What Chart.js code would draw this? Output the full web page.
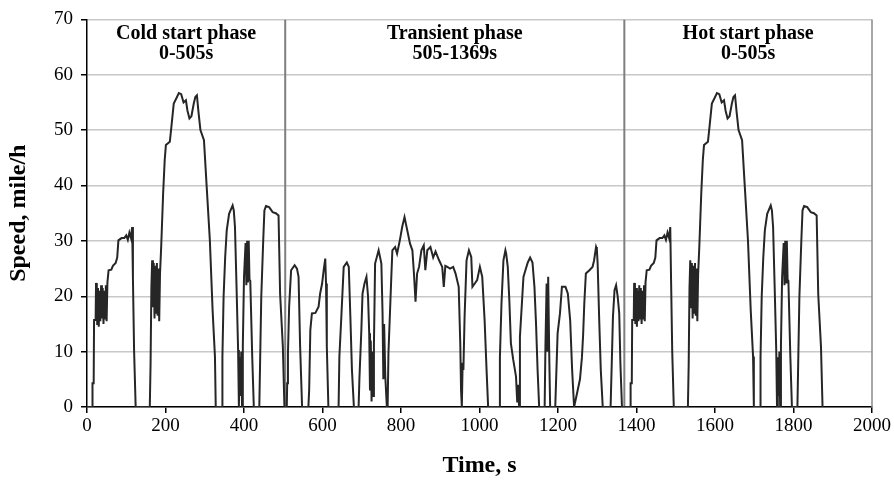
<!DOCTYPE html>
<html><head><meta charset="utf-8">
<script src="https://cdn.jsdelivr.net/npm/chart.js@4.4.0/dist/chart.umd.min.js"></script>
<style>html,body{margin:0;padding:0;background:#fff;}#wrap{width:894px;height:480px;}</style>
</head><body><div id="wrap"><canvas id="c" width="894" height="480"></canvas></div>
<script>
// ---- Data (time in s, speed in mile/h) ----
const coldTime = [0,13,14,17,18,22,23,25,26,28,30,32,34,36,38,40,42,44,46,48,50,52,55,62,66,73,77,80,88,95,100,104,108,112,115,117,120,124,160,162,164,166,168,170,172,174,176,178,180,182,184,186,189,194,198,201,211,215,221,228,234,240,246,252,256,261,266,272,276,280,284,289,298,305,313,320,326,328,344,345,348,352,356,362,371,374,377,381,385,387,389,391,393,395,397,400,404,406,408,410,412,414,416,421,425,439,441,444,449,452,456,464,473,481,488,492,499,503,505];
const coldSpeed = [0,0,4.3,4.3,15.7,15.7,22.4,21,15,21.5,14.5,21,15.5,22,16,21.5,15,21,16,22,15.5,22.5,24.7,24.8,25.5,26,27,30.1,30.5,30.5,31,30.2,31.5,30.5,32.5,23.3,10.1,0,0,7.9,21.4,26.5,18,26,16,25.5,17,26,16.5,25,15.5,24,28.9,38.6,44.6,47.3,47.9,50.6,54.8,55.8,56.7,56.5,55,55.4,53.5,52.1,52.5,54.8,56,56.3,53.3,50,48.2,39.7,30.1,17.5,9.1,0,0,9,19.9,27,31.9,34.9,36.4,35.5,32.5,21.7,10.3,0,9,2,10,0,11,23.5,29.6,22,30,22.5,30,23,22.8,9,0,0,8,19.9,30.1,35.5,36.3,36.1,35.2,35,34.6,20.4,10.9,0,0];

const transTime = [505,509,510,512,515,520,529,535,539,543,548,564,566,569,573,582,590,594,599,603,607,609,611,615,641,643,648,654,662,667,671,675,680,692,694,699,702,707,712,716,719,721,723,725,727,729,731,734,743,750,753,755,757,760,764,766,768,775,778,785,790,797,803,809,816,823,829,833,837,841,846,852,858,862,867,875,882,888,897,905,909,913,918,925,933,939,947,951,953,955,957,959,962,967,973,979,982,988,994,1001,1007,1013,1018,1022,1050,1052,1056,1061,1066,1068,1072,1076,1080,1086,1093,1096,1098,1101,1103,1108,1112,1117,1123,1129,1135,1140,1144,1148,1152,1166,1168,1171,1173,1175,1178,1180,1193,1196,1199,1205,1210,1219,1225,1231,1236,1241,1247,1256,1261,1264,1267,1271,1280,1288,1292,1297,1299,1301,1305,1309,1314,1334,1337,1340,1344,1348,1352,1356,1359,1363,1369];
const transSpeed = [0,0,4.3,9.7,18.1,24.7,25.6,25,23.5,10.9,0,0,3,13.9,16.9,17,18.1,20.5,22.3,24.7,26.8,22.3,10.9,0,0,9.1,16.3,25.3,26.1,25.3,16.3,6.7,0,0,5,13.9,20.5,22.3,23.5,20,13.3,3,12,1,10,2,11,25.9,28.3,25.9,16.9,5,15,5.5,0,0,9.7,22.9,28.3,28.9,27.7,30.1,32.5,34.3,31.9,29.5,28.3,24.1,19,24.1,25.3,28.3,29.2,24.7,28.3,28.9,27,28.1,26.5,25.3,21.7,25.5,25.3,25,25.3,24.1,21.7,11.5,3,0,8,6.7,16.3,26.5,28.3,27.1,21.7,22.3,22.9,25.3,23.5,15.7,6.7,0,0,9,18.7,26.5,28.3,27.7,25.3,19.3,11.5,8.5,5.5,1,4,0,12.7,18.7,23.5,24.7,26.1,27,26.1,21.7,15.1,6.7,0,0,11,22.3,10,23.5,8,0,0,6.7,13.3,16.9,21.7,21.7,20.5,15.7,6.7,0,2,5,9,13,18.7,24.1,24.7,25.3,26.5,28.9,28.5,25.9,15.7,6.7,0,0,8,16.3,21.1,22,20,16.9,7.8,0,0];

const hotTime = [1369,1384,1385,1388,1389,1393,1394,1396,1397,1399,1401,1403,1405,1407,1409,1411,1413,1415,1417,1419,1421,1423,1426,1433,1437,1444,1448,1451,1459,1466,1471,1475,1479,1483,1486,1488,1491,1495,1531,1533,1535,1537,1539,1541,1543,1545,1547,1549,1551,1553,1555,1557,1560,1565,1569,1572,1582,1586,1592,1599,1605,1611,1617,1623,1627,1632,1637,1643,1647,1651,1655,1660,1669,1676,1684,1691,1697,1699,1715,1716,1719,1723,1727,1733,1742,1745,1748,1752,1756,1758,1760,1762,1764,1766,1768,1771,1775,1777,1779,1781,1783,1785,1787,1792,1796,1810,1812,1815,1820,1823,1827,1835,1844,1852,1859,1863,1870,1874];
const hotSpeed = [0,0,4.3,4.3,15.7,15.7,22.4,21,15,21.5,14.5,21,15.5,22,16,21.5,15,21,16,22,15.5,22.5,24.7,24.8,25.5,26,27,30.1,30.5,30.5,31,30.2,31.5,30.5,32.5,23.3,10.1,0,0,7.9,21.4,26.5,18,26,16,25.5,17,26,16.5,25,15.5,24,28.9,38.6,44.6,47.3,47.9,50.6,54.8,55.8,56.7,56.5,55,55.4,53.5,52.1,52.5,54.8,56,56.3,53.3,50,48.2,39.7,30.1,17.5,9.1,0,0,9,19.9,27,31.9,34.9,36.4,35.5,32.5,21.7,10.3,0,9,2,10,0,11,23.5,29.6,22,30,22.5,30,23,22.8,9,0,0,8,19.9,30.1,35.5,36.3,36.1,35.2,35,34.6,20.4,10.9,0];

const phaseBoundaries = [505, 1369];
const phaseCenters = [252.5, 937, 1684.5];
const phaseLabels = [["Cold start phase","0-505s"],["Transient phase","505-1369s"],["Hot start phase","0-505s"]];
const xAxisTitle = "Time, s";
const yAxisTitle = "Speed, mile/h";

// ---- Build chart data ----
const allTime = coldTime.concat(transTime, hotTime);
const allSpeed = coldSpeed.concat(transSpeed, hotSpeed);
const speedPoints = allTime.map((t, i) => ({x: t, y: allSpeed[i]}));

const datasets = [{
  label: 'Speed',
  data: speedPoints,
  borderColor: '#262626',
  borderWidth: 2,
  pointRadius: 0,
  tension: 0,
  fill: false,
  order: 1
}];
phaseBoundaries.forEach(b => {
  datasets.push({
    label: 'boundary',
    data: [{x: b, y: 0}, {x: b, y: 70}],
    borderColor: '#7f7f7f',
    borderWidth: 2,
    pointRadius: 0,
    order: 2
  });
});

const FONT = '"Liberation Serif", "Times New Roman", serif';

const framePlugin = {
  id: 'frame',
  afterDatasetsDraw(chart) {
    const {ctx, chartArea, scales} = chart;
    ctx.save();
    ctx.strokeStyle = '#8a8a8a';
    ctx.lineWidth = 1.5;
    ctx.beginPath();
    ctx.moveTo(chartArea.right, chartArea.top);
    ctx.lineTo(chartArea.right, chartArea.bottom);
    ctx.stroke();
    ctx.fillStyle = '#000';
    ctx.font = 'bold 20px ' + FONT;
    ctx.textAlign = 'center';
    ctx.textBaseline = 'middle';
    phaseLabels.forEach((lines, i) => {
      const x = scales.x.getPixelForValue(phaseCenters[i]);
      lines.forEach((s, j) => {
        ctx.fillText(s, x, chartArea.top + 14 + j * 20);
      });
    });
    ctx.restore();
  }
};

new Chart(document.getElementById('c'), {
  type: 'line',
  data: {datasets},
  options: {
    responsive: false,
    animation: false,
    devicePixelRatio: 1,
    layout: {padding: {top: 19, right: 22, left: 0, bottom: 0}},
    plugins: {legend: {display: false}, tooltip: {enabled: false}},
    scales: {
      x: {
        type: 'linear', min: 0, max: 2000,
        ticks: {stepSize: 200, color: '#000', font: {family: FONT, size: 19}, padding: 2, maxRotation: 0,
                callback: v => String(v)},
        grid: {drawOnChartArea: false, tickLength: 6, tickColor: '#000', lineWidth: 1.5},
        border: {color: '#000', width: 1.5},
        title: {display: true, text: xAxisTitle, color: '#000', font: {family: FONT, size: 24, weight: 'bold'}, padding: {top: 0, bottom: 0}},
        afterFit(scale) { scale.height = 73; }
      },
      y: {
        type: 'linear', min: 0, max: 70,
        ticks: {stepSize: 10, color: '#000', font: {family: FONT, size: 19}, padding: 8,
                callback: v => String(v)},
        grid: {color: '#c8c8c8', lineWidth: 1.5, tickLength: 6, tickColor: '#000'},
        border: {color: '#000', width: 1.5},
        title: {display: true, text: yAxisTitle, color: '#000', font: {family: FONT, size: 24, weight: 'bold'}, padding: {top: 4, bottom: 0}},
        afterFit(scale) { scale.width = 87; }
      }
    }
  },
  plugins: [framePlugin]
});
</script></body></html>
